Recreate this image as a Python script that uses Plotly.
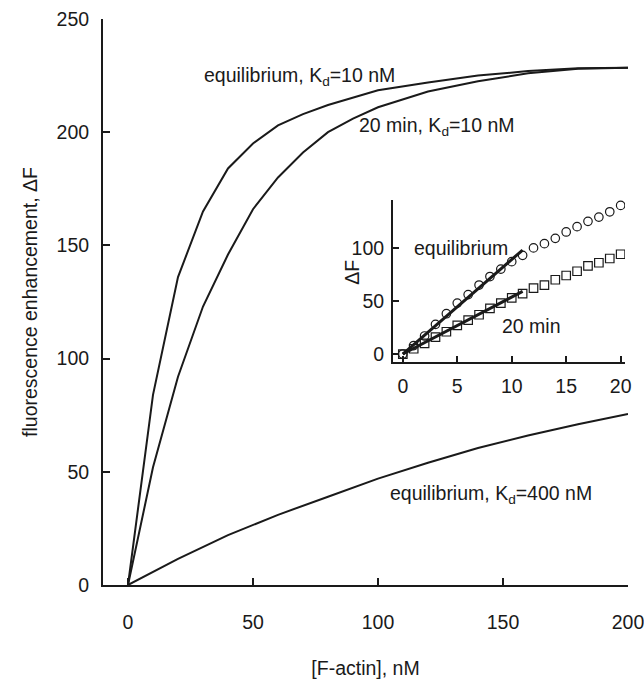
import plotly.graph_objects as go

# Main panel data: [F-actin] (nM) vs fluorescence enhancement
conc_eq10 = [0, 10, 20, 30, 40, 50, 60, 70, 80, 100, 120, 140, 160, 180, 200]
eq_kd10 = [0, 84, 136, 165, 184, 195, 203, 208, 212, 218.5, 222, 225, 227, 228.3, 228.5]

conc_20min = [0, 10, 20, 30, 40, 50, 60, 70, 80, 90, 100, 120, 140, 160, 180, 200]
min20_kd10 = [0, 52, 92, 123, 146, 166, 180, 191, 200, 206, 211, 218, 222.5, 226, 228, 228.5]

conc_kd400 = [0, 20, 40, 60, 80, 100, 120, 140, 160, 180, 200]
eq_kd400 = [0, 11.5, 22, 31, 39, 47, 54, 60.5, 66, 71, 75.5]

# Inset data (0-20 nM)
inset_x = list(range(0, 21))
inset_eq = [0, 8, 17, 28, 38, 48, 56, 65, 73, 80, 87, 93, 100, 104, 109, 115, 120, 125, 129, 134, 140]
inset_20 = [0, 5, 10, 16, 21, 27, 32, 37, 43, 48, 53, 57, 62, 65, 70, 74, 78, 83, 86, 90, 94]
fit_x = [0, 11]
fit_eq = [0, 98]
fit_20 = [0, 59]

main_xticks = [0, 50, 100, 150, 200]
main_yticks = [0, 50, 100, 150, 200, 250]
inset_xticks = [0, 5, 10, 15, 20]
inset_yticks = [0, 50, 100]

FONT = "Liberation Sans, Arial, sans-serif"
INK = "#1a1a1a"
FS = 19.5

fig = go.Figure()
line = dict(color=INK, width=2)
fig.add_trace(go.Scatter(x=conc_eq10, y=eq_kd10, mode="lines", line=line))
fig.add_trace(go.Scatter(x=conc_20min, y=min20_kd10, mode="lines", line=line))
fig.add_trace(go.Scatter(x=conc_kd400, y=eq_kd400, mode="lines", line=line))

fig.add_trace(go.Scatter(x=inset_x, y=inset_eq, mode="markers", xaxis="x2", yaxis="y2",
                         marker=dict(symbol="circle-open", size=8.5, color=INK, line=dict(width=1.2))))
fig.add_trace(go.Scatter(x=inset_x, y=inset_20, mode="markers", xaxis="x2", yaxis="y2",
                         marker=dict(symbol="square-open", size=8.5, color=INK, line=dict(width=1.2))))
fig.add_trace(go.Scatter(x=fit_x, y=fit_eq, mode="lines", xaxis="x2", yaxis="y2",
                         line=dict(color=INK, width=3)))
fig.add_trace(go.Scatter(x=fit_x, y=fit_20, mode="lines", xaxis="x2", yaxis="y2",
                         line=dict(color=INK, width=3)))

axcommon = dict(showgrid=False, zeroline=False, showline=True, linecolor=INK, linewidth=2,
                ticks="inside", tickcolor=INK, tickwidth=1.5, automargin=False,
                ticklabeloverflow="allow",
                tickfont=dict(family=FONT, size=FS, color=INK))

fig.update_layout(
    width=644, height=681,
    margin=dict(l=103, r=16, t=19, b=96),
    paper_bgcolor="white", plot_bgcolor="white",
    showlegend=False,
    font=dict(family=FONT, size=FS, color=INK),
    xaxis=dict(range=[-10, 200], tickvals=main_xticks, ticklen=7, ticklabelstandoff=19,
               title=dict(text="[F-actin], nM", standoff=29, font=dict(size=FS)), **axcommon),
    yaxis=dict(range=[0, 250], tickvals=main_yticks, ticklen=7, ticklabelstandoff=8,
               title=dict(text="fluorescence enhancement, ΔF", standoff=14, font=dict(size=FS)), **axcommon),
    xaxis2=dict(domain=[0.5524, 0.9943], anchor="y2", range=[-0.9, 20.4], tickvals=inset_xticks,
                ticklen=6, ticklabelstandoff=6, **axcommon),
    yaxis2=dict(domain=[0.394, 0.680], anchor="x2", range=[-7.5, 145], tickvals=inset_yticks,
                ticklen=6, ticklabelstandoff=3, **axcommon),
)

ann = dict(showarrow=False, xanchor="left", yanchor="middle", font=dict(family=FONT, size=FS, color=INK))
fig.add_annotation(x=29.6, y=224.7, text="equilibrium, K<sub>d</sub>=10 nM", **ann)
fig.add_annotation(x=91.6, y=202.6, text="20 min, K<sub>d</sub>=10 nM", **ann)
fig.add_annotation(x=104, y=40, text="equilibrium, K<sub>d</sub>=400 nM", **ann)
fig.add_annotation(x=0.83, y=100, xref="x2", yref="y2", text="equilibrium", **ann)
fig.add_annotation(x=8.9, y=26.4, xref="x2", yref="y2", text="20 min", **ann)
# inset y-axis title
fig.add_annotation(x=0.474, y=0.553, xref="paper", yref="paper", text="ΔF", textangle=-90,
                   showarrow=False, xanchor="center", yanchor="middle",
                   font=dict(family=FONT, size=FS, color=INK))

fig.write_html("out.html", config={"displayModeBar": False},
               post_script="document.body.style.margin='0';document.body.style.overflow='hidden';")
